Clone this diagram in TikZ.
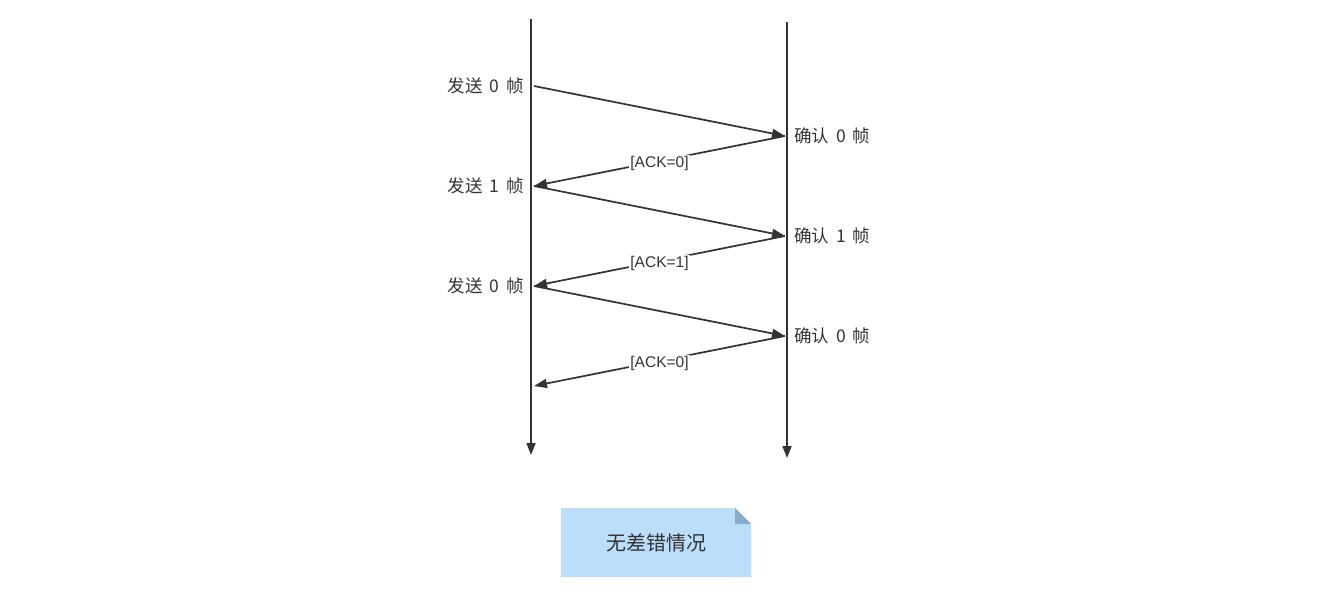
\documentclass[tikz,border=0pt]{standalone}
\usepackage{fontspec}
\setmainfont{Noto Sans CJK SC}
\newfontfamily\latinfont{Liberation Sans}
\usetikzlibrary{arrows.meta}
\definecolor{ink}{HTML}{333333}
\definecolor{notefill}{HTML}{BBDEFB}
\definecolor{notefold}{HTML}{8AACC8}
\newcommand{\gap}{\hspace{0.4em}}
\begin{document}
\begin{tikzpicture}[x=1pt,y=-1pt,
  life/.style={draw=ink,line width=1.7pt,-{Triangle[length=12pt,width=9pt]}},
  msg/.style={draw=ink,line width=1.7pt,-{Triangle[length=13pt,width=9pt]}},
  lbl/.style={font=\fontsize{17.5}{19}\selectfont,text=ink,inner sep=0pt},
  ack/.style={font=\latinfont\fontsize{15.5}{17}\selectfont,text=ink,fill=white,inner sep=1pt,yshift=-2pt},
]
\useasboundingbox (0,0) rectangle (1325,593);
% lifelines
\coordinate (Ltop) at (531,19);
\coordinate (Lbot) at (531,455);
\coordinate (Rtop) at (787,22);
\coordinate (Rbot) at (787,458);
\draw[life] (Ltop) -- (Lbot);
\draw[life] (Rtop) -- (Rbot);
% message points
\coordinate (s0) at (534,86);
\coordinate (r0) at (785,136);
\coordinate (s1) at (534,186);
\coordinate (r1) at (785,236);
\coordinate (s2) at (534,286);
\coordinate (r2) at (785,336);
\coordinate (s3) at (534,386);
\draw[msg] (s0) -- (r0);
\draw[msg] (r0) -- node[ack] (a0) {[ACK=0]} (s1);
\draw[msg] (s1) -- (r1);
\draw[msg] (r1) -- node[ack] (a1) {[ACK=1]} (s2);
\draw[msg] (s2) -- (r2);
\draw[msg] (r2) -- node[ack] (a2) {[ACK=0]} (s3);
% labels
\node[lbl,anchor=east] (ls0) at (524,86) {发送\gap 0\gap 帧};
\node[lbl,anchor=east] (ls1) at (524,186) {发送\gap 1\gap 帧};
\node[lbl,anchor=east] (ls2) at (524,286) {发送\gap 0\gap 帧};
\node[lbl,anchor=west] (lr0) at (794,136) {确认\gap 0\gap 帧};
\node[lbl,anchor=west] (lr1) at (794,236) {确认\gap 1\gap 帧};
\node[lbl,anchor=west] (lr2) at (794,336) {确认\gap 0\gap 帧};
% note
\fill[notefill] (561,508) -- (735,508) -- (751,524) -- (751,577) -- (561,577) -- cycle;
\fill[notefold] (735,508) -- (751,524) -- (735,524) -- cycle;
\node[lbl,font=\fontsize{20}{22}\selectfont] (note) at (656,543) {无差错情况};
\end{tikzpicture}
\end{document}
